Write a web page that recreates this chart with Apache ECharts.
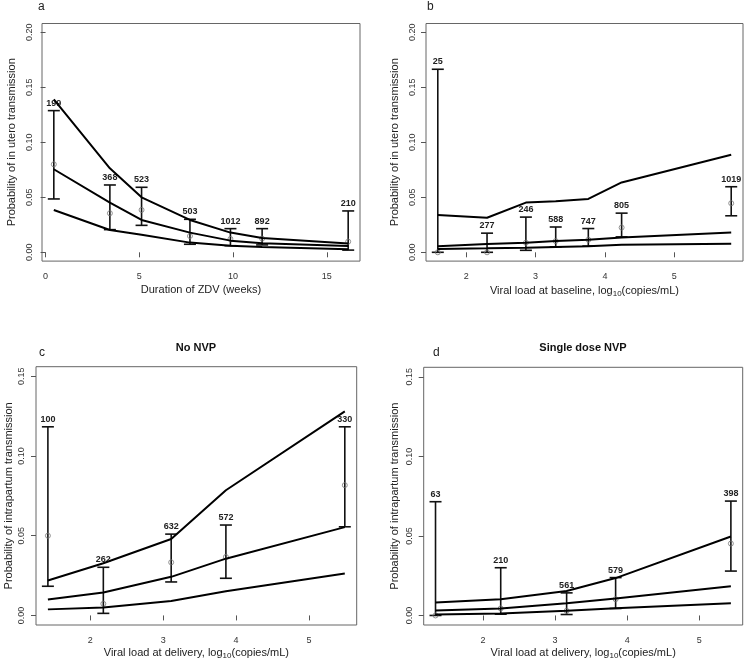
<!DOCTYPE html>
<html>
<head>
<meta charset="utf-8">
<script src="https://cdn.jsdelivr.net/npm/echarts@6/dist/echarts.min.js"></script>
<style>
  html, body { margin: 0; padding: 0; background: #fff; }
  #chart { width: 745px; height: 661px; }
</style>
</head>
<body>
<div id="chart"></div>
<script>
// a: duration of ZDV
const aX = [0.44, 3.43, 5.12, 7.70, 9.86, 11.55, 16.14]
const aN = [199, 368, 523, 503, 1012, 892, 210]
const aEst = [0.080, 0.0355, 0.0385, 0.0148, 0.0121, 0.0124, 0.0097]
const aLo = [0.0485, 0.0206, 0.0245, 0.0073, 0.0060, 0.0067, 0.0020]
const aHi = [0.1288, 0.0612, 0.0591, 0.0300, 0.0215, 0.0215, 0.0376]
const aUpper = [0.139, 0.0764, 0.050, 0.0294, 0.0179, 0.0130, 0.0079]
const aMid = [0.0755, 0.0452, 0.0294, 0.0179, 0.0106, 0.0082, 0.0058]
const aLow = [0.0385, 0.0203, 0.0160, 0.0088, 0.0060, 0.0048, 0.0027]

// b: viral load at baseline
const bX = [1.59, 2.30, 2.86, 3.29, 3.76, 4.24, 5.82]
const bN = [25, 277, 246, 588, 747, 805, 1019]
const bEst = [0, 0, 0.0087, 0.0102, 0.0114, 0.0225, 0.0446]
const bLo = [0, 0, 0.0018, 0.0050, 0.0057, 0.0140, 0.0332]
const bHi = [0.1664, 0.0174, 0.0320, 0.0230, 0.0216, 0.0356, 0.0596]
const bUpper = [0.0338, 0.0314, 0.0452, 0.0464, 0.0485, 0.0635, 0.0886]
const bMid = [0.0054, 0.0075, 0.0087, 0.0102, 0.0114, 0.0135, 0.0180]
const bLow = [0.0030, 0.0036, 0.0042, 0.0048, 0.0054, 0.0069, 0.0078]

// c: viral load at delivery, no NVP
const cX = [1.42, 2.18, 3.11, 3.86, 5.49]
const cN = [100, 262, 632, 572, 330]
const cEst = [0.050, 0.0073, 0.0333, 0.0367, 0.0817]
const cLo = [0.0183, 0.0013, 0.0210, 0.0233, 0.0556]
const cHi = [0.1183, 0.0302, 0.0510, 0.0567, 0.1183]
const cUpper = [0.0219, 0.0327, 0.0479, 0.0785, 0.128]
const cMid = [0.0100, 0.0144, 0.0242, 0.0356, 0.0554]
const cLow = [0.0038, 0.0050, 0.0090, 0.0152, 0.0263]

// d: viral load at delivery, single dose NVP
const dX = [1.34, 2.245, 3.16, 3.84, 5.44]
const dN = [63, 210, 561, 579, 398]
const dEst = [0, 0.0044, 0.0029, 0.0102, 0.0452]
const dLo = [0, 0.0008, 0.0006, 0.0044, 0.0279]
const dHi = [0.0715, 0.0300, 0.0142, 0.0238, 0.0719]
const dUpper = [0.0081, 0.0102, 0.0154, 0.0235, 0.0496]
const dMid = [0.0031, 0.0044, 0.0077, 0.0106, 0.0183]
const dLow = [0.0006, 0.0013, 0.0029, 0.0046, 0.0077]

const xTicksA = [0, 5, 10, 15]
const xTicksVL = [2, 3, 4, 5]
const yTicksUtero = [0, 0.05, 0.10, 0.15, 0.20]
const yTicksIntra = [0, 0.05, 0.10, 0.15]

const FONT = '"Liberation Sans", Arial, sans-serif'

function renderBar(params, api) {
  const x = api.value(0)
  const pLo = api.coord([x, api.value(1)])
  const pHi = api.coord([x, api.value(2)])
  const hw = 6
  const st = {stroke: '#111', lineWidth: 1.6}
  return {
    type: 'group',
    children: [
      {type: 'line', shape: {x1: pHi[0], y1: pHi[1], x2: pLo[0], y2: pLo[1]}, style: st},
      {type: 'line', shape: {x1: pHi[0] - hw, y1: pHi[1], x2: pHi[0] + hw, y2: pHi[1]}, style: st},
      {type: 'line', shape: {x1: pLo[0] - hw, y1: pLo[1], x2: pLo[0] + hw, y2: pLo[1]}, style: st},
      {
        type: 'text', x: pHi[0], y: pHi[1] - 3,
        style: {text: String(api.value(3)), align: 'center', verticalAlign: 'bottom',
          font: 'bold 9px ' + FONT, fill: '#222'}
      }
    ]
  }
}

function panelSeries(i, X, N, est, lo, hi, up, mid, low) {
  const out = []
  for (const ys of [up, mid, low]) {
    out.push({
      type: 'line', xAxisIndex: i, yAxisIndex: i, symbol: 'none', silent: true,
      lineStyle: {color: '#000', width: 2},
      data: X.map((x, k) => [x, ys[k]])
    })
  }
  out.push({
    type: 'custom', xAxisIndex: i, yAxisIndex: i, renderItem: renderBar, clip: false,
    encode: {x: 0, y: [1, 2]},
    data: X.map((x, k) => [x, lo[k], hi[k], N[k]])
  })
  out.push({
    type: 'scatter', xAxisIndex: i, yAxisIndex: i, symbol: 'circle', symbolSize: 5,
    itemStyle: {color: 'rgba(0,0,0,0)', borderColor: '#777', borderWidth: 1},
    data: X.map((x, k) => [x, est[k]])
  })
  return out
}

function xAxis(i, min, max, ticks, name, gap) {
  return {
    type: 'value', gridIndex: i, min: min, max: max,
    name: name, nameLocation: 'middle', nameGap: gap,
    nameTextStyle: {fontSize: 11, color: '#222', fontFamily: FONT,
      rich: {sub: {fontSize: 8, color: '#222', padding: [6, 0, 0, 0], fontFamily: FONT}}},
    axisLine: {show: false},
    axisTick: {show: true, length: 5, customValues: ticks, lineStyle: {color: '#555'}},
    axisLabel: {customValues: ticks, fontSize: 9, color: '#333', margin: 11, fontFamily: FONT},
    splitLine: {show: false}
  }
}

function yAxis(i, min, max, ticks, name, gap, margin) {
  return {
    type: 'value', gridIndex: i, min: min, max: max,
    name: name, nameLocation: 'middle', nameGap: gap,
    nameTextStyle: {fontSize: 11, color: '#222', fontFamily: FONT},
    axisLine: {show: false},
    axisTick: {show: true, length: 5, customValues: ticks, lineStyle: {color: '#555'}},
    axisLabel: {customValues: ticks, fontSize: 9, color: '#333', margin: margin, rotate: 90,
      fontFamily: FONT, formatter: v => v.toFixed(2)},
    splitLine: {show: false}
  }
}

const gridStyle = {show: true, borderColor: '#666', borderWidth: 1, backgroundColor: 'transparent'}

const option = {
  animation: false,
  backgroundColor: '#fff',
  textStyle: {fontFamily: FONT},
  title: [
    {text: 'a', left: 38, top: 1, padding: 0, textStyle: {fontSize: 12, fontWeight: 'normal', color: '#222'}},
    {text: 'b', left: 427, top: 1, padding: 0, textStyle: {fontSize: 12, fontWeight: 'normal', color: '#222'}},
    {text: 'c', left: 39, top: 347, padding: 0, textStyle: {fontSize: 12, fontWeight: 'normal', color: '#222'}},
    {text: 'd', left: 433, top: 347, padding: 0, textStyle: {fontSize: 12, fontWeight: 'normal', color: '#222'}},
    {text: 'No NVP', left: 196, top: 342, padding: 0, textAlign: 'center',
      textStyle: {fontSize: 11, fontWeight: 'bold', color: '#111'}},
    {text: 'Single dose NVP', left: 583, top: 342, padding: 0, textAlign: 'center',
      textStyle: {fontSize: 11, fontWeight: 'bold', color: '#111'}}
  ],
  grid: [
    Object.assign({left: 42, top: 23.5, width: 318, height: 237.6}, gridStyle),
    Object.assign({left: 426, top: 23.5, width: 317, height: 237.6}, gridStyle),
    Object.assign({left: 36, top: 366.7, width: 320.7, height: 260}, gridStyle),
    Object.assign({left: 423.7, top: 367.3, width: 319, height: 259.4}, gridStyle)
  ],
  xAxis: [
    xAxis(0, -0.19, 16.77, xTicksA, 'Duration of ZDV (weeks)', 23),
    xAxis(1, 1.42, 5.99, xTicksVL, 'Viral load at baseline, log{sub|10}(copies/mL)', 23),
    xAxis(2, 1.257, 5.653, xTicksVL, 'Viral load at delivery, log{sub|10}(copies/mL)', 21),
    xAxis(3, 1.176, 5.604, xTicksVL, 'Viral load at delivery, log{sub|10}(copies/mL)', 21)
  ],
  yAxis: [
    yAxis(0, -0.008, 0.208, yTicksUtero, 'Probability of in utero transmission', 25, 8),
    yAxis(1, -0.008, 0.208, yTicksUtero, 'Probability of in utero transmission', 26, 9),
    yAxis(2, -0.006, 0.156, yTicksIntra, 'Probability of intrapartum transmission', 22, 10),
    yAxis(3, -0.006, 0.156, yTicksIntra, 'Probability of intrapartum transmission', 23, 10)
  ],
  series: [
    ...panelSeries(0, aX, aN, aEst, aLo, aHi, aUpper, aMid, aLow),
    ...panelSeries(1, bX, bN, bEst, bLo, bHi, bUpper, bMid, bLow),
    ...panelSeries(2, cX, cN, cEst, cLo, cHi, cUpper, cMid, cLow),
    ...panelSeries(3, dX, dN, dEst, dLo, dHi, dUpper, dMid, dLow)
  ]
}

const myChart = echarts.init(document.getElementById('chart'))
myChart.setOption(option)
</script>
</body>
</html>
